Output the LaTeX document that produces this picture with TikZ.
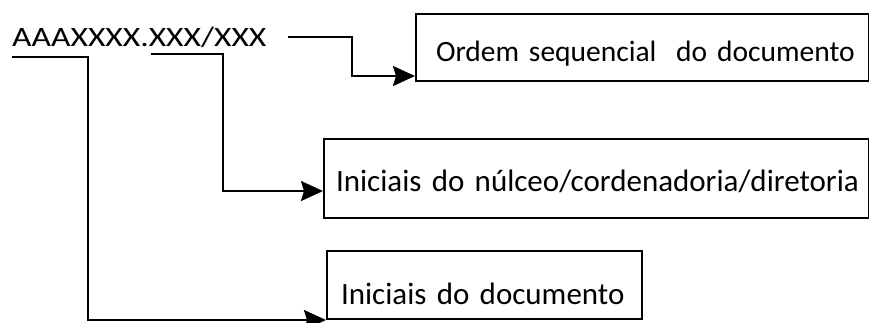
\documentclass[tikz,border=0pt]{standalone}
\usepackage{fontspec}
\usepackage{graphicx}
\setmainfont{Carlito}
\usetikzlibrary{arrows.meta}
\begin{document}
\begin{tikzpicture}[x=1pt,y=-1pt,
  conn/.style={line width=2pt,-{Stealth[length=22pt,width=20pt,inset=3pt]}},
  box/.style={draw,line width=2pt,anchor=north west,inner xsep=0pt,inner ysep=0pt,
    align=left,font=\fontsize{31pt}{37pt}\selectfont},
  codetext/.style={anchor=base west,inner sep=0pt,font=\fontsize{28pt}{33pt}\selectfont}]
\useasboundingbox (0,0) rectangle (869,322);
\node[codetext] (code) at (12,46) {\scalebox{1.2}[1]{AAAXXXX.XXX/XXX}};
\node[box,text width=453pt,minimum height=67pt,text height=30pt,text depth=3pt,
  font=\fontsize{29.5pt}{35pt}\selectfont] (b1) at (415,13)
  {\mbox{\hspace*{20pt}Ordem sequencial\ \ do documento}};
\node[box,text width=545pt,minimum height=79pt,text height=28pt,text depth=3pt] (b2) at (323,138)
  {\mbox{\hspace*{12pt}Iniciais do núlceo/cordenadoria/diretoria}};
\node[box,text width=315pt,minimum height=68pt,text height=40pt,text depth=2pt] (b3) at (326,250)
  {\mbox{\hspace*{14pt}Iniciais do documento}};
\coordinate (u1) at (12,57);
\coordinate (u2) at (151,54);
\coordinate (u3) at (288,37);
\draw[conn] (u1) -- ++(76,0) |- (b3.south west);
\draw[conn] (u2) -- ++(72,0) |- ([yshift=28pt]b2.south west);
\draw[conn] (u3) -- ++(64,0) |- ([yshift=6pt]b1.south west);
\end{tikzpicture}
\end{document}
